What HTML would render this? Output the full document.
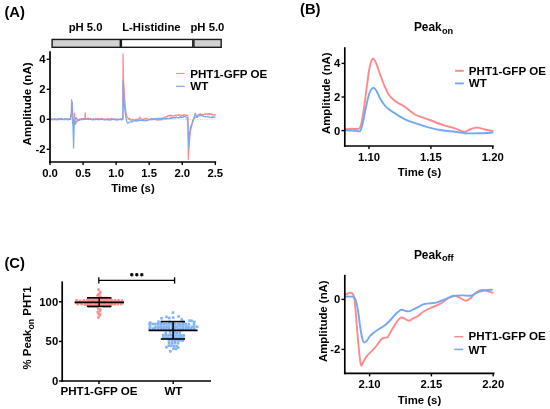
<!DOCTYPE html>
<html><head><meta charset="utf-8"><style>
html,body{margin:0;padding:0;background:#fff;width:550px;height:409px;overflow:hidden}
svg{display:block;will-change:transform;filter:blur(0.35px)}
text{font-family:"Liberation Sans", sans-serif;font-weight:bold;fill:#000}
</style></head><body>
<svg width="550" height="409" viewBox="0 0 550 409">
<rect width="550" height="409" fill="#fff"/>
<text x="4.40" y="17.40" font-size="14.8" text-anchor="start" >(A)</text>
<rect x="52.1" y="39.45" width="68.2" height="7.85" fill="#d2d2d2" stroke="#1a1a1a" stroke-width="1.4"/>
<rect x="121.4" y="39.45" width="71.4" height="7.85" fill="#fff" stroke="#1a1a1a" stroke-width="1.4"/>
<rect x="193.9" y="39.45" width="27.3" height="7.85" fill="#d2d2d2" stroke="#1a1a1a" stroke-width="1.4"/>
<text x="85.60" y="31.20" font-size="11.3" text-anchor="middle" >pH 5.0</text>
<text x="151.40" y="31.00" font-size="11.3" text-anchor="middle" >L-Histidine</text>
<text x="207.40" y="31.20" font-size="11.3" text-anchor="middle" >pH 5.0</text>
<line x1="50.60" y1="119.30" x2="215.40" y2="119.30" stroke="#d4d4d4" stroke-width="0.8" stroke-dasharray="1.6 0.8"/>
<polyline points="50.60,119.24 51.12,119.47 51.64,118.80 52.16,119.58 52.68,118.95 53.21,119.18 53.73,119.60 54.25,118.99 54.77,119.62 55.29,119.09 55.81,119.58 56.33,119.55 56.85,119.10 57.37,118.56 57.89,119.51 58.42,119.37 58.94,118.83 59.46,118.40 59.98,118.90 60.50,119.14 61.02,118.36 61.54,119.61 62.06,118.52 62.58,119.28 63.11,119.48 63.63,119.52 64.15,119.26 64.67,118.57 65.19,119.43 65.71,118.89 66.23,118.81 66.75,119.17 67.27,118.94 67.79,119.59 68.32,119.59 68.84,119.40 69.36,118.76 69.88,119.10 70.40,119.25 70.80,115.13 71.19,114.86 71.59,99.62 72.12,111.40 72.58,124.13 73.37,122.65 74.10,119.20 74.43,113.12 74.89,120.29 75.42,124.09 75.88,123.26 76.34,120.90 76.97,121.77 77.59,121.06 78.06,120.05 78.52,120.32 78.98,119.31 79.52,119.85 80.06,118.94 80.60,118.74 81.14,118.93 81.68,118.45 82.22,119.14 82.76,118.56 83.30,118.63 83.84,118.58 84.38,118.68 84.92,118.09 85.18,112.55 85.58,118.58 86.11,118.35 86.65,119.19 87.18,118.34 87.72,118.44 88.25,117.99 88.79,118.24 89.32,118.99 89.85,118.88 90.39,118.52 90.92,119.41 91.46,118.84 91.99,119.26 92.53,119.35 93.06,119.45 93.59,118.51 94.13,119.39 94.66,119.26 95.20,119.08 95.73,118.46 96.27,119.54 96.80,119.07 97.32,118.93 97.84,118.48 98.36,118.57 98.88,118.51 99.41,119.30 99.93,119.11 100.45,119.19 100.97,118.48 101.49,118.38 102.01,119.47 102.53,119.44 103.05,119.36 103.57,119.36 104.09,119.02 104.62,118.88 105.14,119.32 105.66,119.67 106.18,119.11 106.70,119.18 107.22,118.91 107.74,118.39 108.26,118.74 108.78,118.98 109.31,118.84 109.83,118.76 110.35,119.60 110.87,118.46 111.39,118.62 111.91,118.49 112.43,118.60 112.95,119.15 113.47,119.14 113.99,119.54 114.52,118.82 115.04,119.59 115.56,119.58 116.08,119.39 116.60,119.46 117.14,119.22 117.68,119.60 118.22,119.67 118.76,119.47 119.30,119.54 119.84,119.18 120.38,119.64 120.92,118.49 121.46,118.85 122.00,119.47 122.54,119.33 122.87,118.01 123.07,53.93 123.53,80.81 124.06,88.60 124.59,97.18 125.05,103.37 125.51,108.82 126.00,112.43 126.50,115.49 126.94,116.21 127.38,117.37 127.82,117.66 128.35,118.81 128.88,119.24 129.40,118.24 129.88,119.05 130.35,119.81 130.83,119.51 131.30,120.45 131.78,120.01 132.29,119.39 132.81,119.53 133.32,119.74 133.83,120.31 134.35,120.15 134.86,120.40 135.37,119.57 135.89,119.87 136.40,119.52 136.90,120.03 137.39,120.07 137.88,119.18 138.38,118.85 138.88,118.92 139.37,118.89 139.77,116.92 140.16,118.53 140.70,119.23 141.23,118.85 141.77,119.08 142.31,119.53 142.84,119.55 143.38,119.22 143.91,119.26 144.45,118.69 144.99,118.34 145.52,119.04 146.06,118.39 146.59,118.34 147.13,118.39 147.66,119.20 148.20,119.41 148.74,119.41 149.27,119.46 149.81,119.47 150.34,118.91 150.88,118.55 151.42,118.64 151.95,119.14 152.49,118.92 153.02,118.73 153.56,119.71 154.07,119.03 154.59,118.80 155.10,119.07 155.61,119.21 156.13,119.68 156.64,120.18 157.15,119.46 157.67,120.18 158.18,119.64 158.69,119.33 159.21,120.02 159.72,119.93 160.23,119.11 160.75,119.33 161.26,120.00 161.77,119.97 162.29,119.85 162.80,118.75 163.32,118.48 163.84,118.96 164.36,117.64 164.87,117.02 165.39,117.05 165.91,117.06 166.43,116.38 166.95,116.84 167.47,116.89 167.99,115.49 168.50,115.82 169.02,115.88 169.54,115.22 170.06,115.79 170.59,115.17 171.13,115.21 171.66,116.01 172.19,115.93 172.72,115.85 173.26,115.90 173.79,115.40 174.32,115.82 174.85,115.58 175.39,115.94 175.92,114.86 176.45,115.59 176.98,115.42 177.52,115.23 178.05,114.77 178.58,115.39 179.11,114.70 179.65,115.23 180.18,115.17 180.71,115.15 181.24,115.81 181.78,115.21 182.31,115.53 182.84,115.75 183.37,114.65 183.91,115.47 184.44,115.04 184.97,114.67 185.50,114.87 186.02,115.33 186.53,115.23 187.04,115.33 187.55,115.17 188.08,118.33 188.28,159.42 188.80,151.21 189.33,142.55 189.96,135.96 190.59,130.39 191.10,128.33 191.61,126.07 192.12,123.88 192.63,122.53 193.12,121.00 193.60,119.84 194.08,118.53 194.63,117.90 195.17,117.83 195.71,117.34 196.25,117.02 196.79,116.00 197.37,115.77 197.94,114.97 198.52,114.32 199.10,114.67 199.62,114.26 200.14,113.74 200.66,113.87 201.18,114.81 201.71,114.82 202.23,114.38 202.75,114.87 203.27,114.64 203.79,114.86 204.31,114.04 204.83,113.88 205.35,113.72 205.87,114.71 206.39,113.95 206.92,114.02 207.44,114.71 207.96,113.70 208.48,113.58 209.00,114.58 209.51,113.64 210.02,114.43 210.52,114.36 211.03,113.72 211.54,113.98 212.05,114.93 212.55,114.62 213.06,114.55 213.57,114.83 214.08,115.07 214.58,114.95 215.09,114.45 215.60,114.80" fill="none" stroke="#ff8a8c" stroke-width="1.25" stroke-linejoin="round" stroke-linecap="round"/>
<polyline points="50.60,119.80 51.12,119.24 51.64,119.36 52.16,119.81 52.68,119.48 53.21,119.17 53.73,119.29 54.25,119.76 54.77,118.79 55.29,119.00 55.81,118.80 56.33,119.71 56.85,119.55 57.37,119.78 57.89,119.01 58.42,119.54 58.94,119.69 59.46,119.38 59.98,118.87 60.50,118.97 61.02,119.55 61.54,119.67 62.06,118.86 62.58,119.23 63.11,119.09 63.63,119.73 64.15,119.76 64.67,119.10 65.19,119.38 65.71,119.75 66.23,118.84 66.75,119.16 67.27,118.98 67.79,119.74 68.32,118.93 68.84,119.76 69.36,118.92 69.88,119.35 70.40,119.47 71.06,116.24 71.59,111.35 72.18,101.99 72.78,115.19 73.24,134.27 73.57,147.92 74.10,127.21 74.69,119.66 75.15,119.12 75.61,118.31 76.08,117.55 76.54,118.53 77.00,119.03 77.66,119.97 78.32,120.20 78.81,120.31 79.31,119.91 79.81,120.03 80.30,119.56 80.82,119.81 81.34,119.06 81.86,119.25 82.38,119.63 82.91,119.33 83.43,118.84 83.95,119.71 84.47,118.97 84.99,119.37 85.51,119.31 86.03,118.95 86.55,119.41 87.07,119.29 87.59,119.10 88.12,118.79 88.64,119.47 89.16,118.95 89.68,119.08 90.20,119.16 90.73,119.41 91.26,119.47 91.78,119.79 92.31,119.71 92.84,119.78 93.37,119.08 93.90,119.60 94.42,119.70 94.95,119.79 95.48,119.00 96.01,118.98 96.54,119.19 97.06,119.61 97.59,119.65 98.12,119.61 98.65,119.44 99.18,119.76 99.70,119.46 100.23,119.66 100.76,118.94 101.29,118.93 101.82,119.38 102.34,119.71 102.87,118.96 103.40,119.65 103.93,119.61 104.46,119.99 104.98,119.59 105.51,119.50 106.04,119.48 106.57,119.80 107.10,119.49 107.62,120.02 108.15,119.75 108.68,119.94 109.21,119.62 109.74,120.00 110.26,120.03 110.79,119.74 111.32,119.82 111.85,119.46 112.38,119.52 112.90,119.29 113.43,119.40 113.96,119.34 114.49,119.18 115.02,119.70 115.54,119.77 116.07,119.09 116.60,119.97 117.14,119.36 117.68,119.45 118.22,120.08 118.76,119.25 119.30,119.19 119.84,119.47 120.38,119.35 120.92,119.27 121.46,119.98 122.00,119.58 122.54,119.60 122.94,117.45 123.13,80.28 123.86,100.96 124.52,106.84 125.18,112.14 125.62,114.86 126.06,117.35 126.50,120.33 127.00,121.89 127.49,123.14 128.07,122.78 128.65,122.94 129.22,122.06 129.80,122.24 130.33,122.00 130.86,121.84 131.38,121.62 131.91,121.65 132.44,122.00 132.97,121.00 133.50,120.88 134.02,120.98 134.55,120.78 135.08,120.48 135.60,121.09 136.12,120.37 136.64,120.87 137.15,121.04 137.67,120.82 138.19,120.32 138.71,120.86 139.23,120.28 139.75,120.02 140.27,120.51 140.78,120.62 141.30,120.50 141.82,120.27 142.34,120.17 142.86,120.31 143.38,120.27 143.90,120.85 144.41,120.76 144.93,120.64 145.45,120.11 145.97,120.56 146.51,120.19 147.05,120.69 147.60,120.55 148.14,120.25 148.68,119.74 149.22,119.63 149.76,119.57 150.31,119.88 150.85,119.56 151.39,119.53 151.93,119.44 152.48,119.72 153.02,118.82 153.56,119.47 154.07,118.58 154.59,118.56 155.10,119.46 155.61,118.93 156.13,118.48 156.64,118.26 157.15,118.74 157.67,118.86 158.18,118.85 158.70,118.08 159.21,118.85 159.73,118.46 160.24,118.93 160.76,118.52 161.27,118.07 161.79,118.94 162.31,118.21 162.82,118.54 163.34,118.14 163.85,118.34 164.37,118.83 164.88,118.13 165.40,118.56 165.91,119.05 166.43,119.07 166.96,118.51 167.49,118.50 168.02,118.61 168.55,118.73 169.08,118.46 169.61,118.44 170.14,117.84 170.67,118.67 171.20,117.84 171.73,117.69 172.26,118.40 172.79,117.50 173.32,117.68 173.85,117.43 174.38,118.02 174.91,117.88 175.44,117.81 175.97,117.13 176.50,117.51 177.03,117.70 177.56,117.58 178.09,117.69 178.62,117.87 179.15,117.77 179.68,116.95 180.21,117.48 180.74,116.74 181.27,117.41 181.80,117.35 182.32,117.04 182.85,117.33 183.38,117.08 183.91,116.42 184.44,116.45 184.97,116.47 185.50,116.61 186.10,117.02 186.69,117.69 187.29,118.80 187.88,123.57 188.61,146.77 189.33,134.21 189.96,130.83 190.59,126.83 191.10,125.49 191.61,124.40 192.12,123.19 192.63,120.80 193.12,120.29 193.60,118.58 194.08,117.36 194.65,115.54 195.21,113.20 195.73,114.30 196.26,116.40 196.79,117.34 197.28,117.26 197.77,116.54 198.26,116.26 198.74,116.05 199.23,115.61 199.77,115.66 200.31,115.04 200.85,115.57 201.39,115.97 201.93,115.35 202.47,115.36 203.01,116.04 203.55,116.48 204.09,116.53 204.63,116.74 205.17,116.58 205.71,116.95 206.25,116.90 206.79,116.99 207.33,116.77 207.87,116.54 208.41,116.79 208.91,117.15 209.42,117.16 209.93,117.06 210.44,117.23 210.94,117.28 211.45,117.58 211.96,117.36 212.47,116.65 212.98,117.55 213.48,117.16 213.99,117.04 214.50,116.81 215.01,117.20" fill="none" stroke="#72a8f4" stroke-width="1.25" stroke-linejoin="round" stroke-linecap="round"/>
<line x1="50.00" y1="51.20" x2="50.00" y2="163.10" stroke="#000" stroke-width="1.7" />
<line x1="49.15" y1="162.00" x2="216.15" y2="162.00" stroke="#000" stroke-width="1.7" />
<line x1="46.70" y1="59.30" x2="50.00" y2="59.30" stroke="#000" stroke-width="1.4" />
<text x="45.60" y="63.20" font-size="11.3" text-anchor="end" >4</text>
<line x1="46.70" y1="89.30" x2="50.00" y2="89.30" stroke="#000" stroke-width="1.4" />
<text x="45.60" y="93.20" font-size="11.3" text-anchor="end" >2</text>
<line x1="46.70" y1="119.30" x2="50.00" y2="119.30" stroke="#000" stroke-width="1.4" />
<text x="45.60" y="123.20" font-size="11.3" text-anchor="end" >0</text>
<line x1="46.70" y1="149.30" x2="50.00" y2="149.30" stroke="#000" stroke-width="1.4" />
<text x="45.60" y="153.20" font-size="11.3" text-anchor="end" >-2</text>
<line x1="50.00" y1="162.00" x2="50.00" y2="165.00" stroke="#000" stroke-width="1.4" />
<text x="50.00" y="176.60" font-size="11.3" text-anchor="middle" >0.0</text>
<line x1="83.06" y1="162.00" x2="83.06" y2="165.00" stroke="#000" stroke-width="1.4" />
<text x="83.06" y="176.60" font-size="11.3" text-anchor="middle" >0.5</text>
<line x1="116.12" y1="162.00" x2="116.12" y2="165.00" stroke="#000" stroke-width="1.4" />
<text x="116.12" y="176.60" font-size="11.3" text-anchor="middle" >1.0</text>
<line x1="149.18" y1="162.00" x2="149.18" y2="165.00" stroke="#000" stroke-width="1.4" />
<text x="149.18" y="176.60" font-size="11.3" text-anchor="middle" >1.5</text>
<line x1="182.24" y1="162.00" x2="182.24" y2="165.00" stroke="#000" stroke-width="1.4" />
<text x="182.24" y="176.60" font-size="11.3" text-anchor="middle" >2.0</text>
<line x1="215.30" y1="162.00" x2="215.30" y2="165.00" stroke="#000" stroke-width="1.4" />
<text x="215.30" y="176.60" font-size="11.3" text-anchor="middle" >2.5</text>
<text x="133.00" y="191.60" font-size="11.4" text-anchor="middle" >Time (s)</text>
<text x="0.00" y="0.00" font-size="11.6" text-anchor="middle" transform="translate(31.4,103.9) rotate(-90)">Amplitude (nA)</text>
<line x1="175.90" y1="73.50" x2="184.70" y2="73.50" stroke="#ff8a8c" stroke-width="1.15" />
<line x1="175.90" y1="86.30" x2="184.70" y2="86.30" stroke="#72a8f4" stroke-width="1.15" />
<text x="190.20" y="77.60" font-size="11.6" text-anchor="start" >PHT1-GFP OE</text>
<text x="190.20" y="89.70" font-size="11.6" text-anchor="start" >WT</text>
<text x="300.00" y="14.30" font-size="14.8" text-anchor="start" >(B)</text>
<text x="413.90" y="31.00" font-size="11.9" text-anchor="start" >Peak</text>
<text x="441.90" y="33.60" font-size="9.2" text-anchor="start" >on</text>
<path d="M345.00,129.20 C346.17,129.13 349.75,128.87 352.00,128.80 C354.25,128.73 357.00,129.43 358.50,128.80 C360.00,128.17 360.08,128.47 361.00,125.00 C361.92,121.53 363.08,114.00 364.00,108.00 C364.92,102.00 365.58,95.67 366.50,89.00 C367.42,82.33 368.48,73.03 369.50,68.00 C370.52,62.97 371.52,59.63 372.60,58.80 C373.68,57.97 374.72,60.30 376.00,63.00 C377.28,65.70 378.88,71.17 380.30,75.00 C381.72,78.83 383.10,82.75 384.50,86.00 C385.90,89.25 386.95,92.00 388.70,94.50 C390.45,97.00 392.28,98.92 395.00,101.00 C397.72,103.08 401.67,104.75 405.00,107.00 C408.33,109.25 411.08,112.42 415.00,114.50 C418.92,116.58 424.05,117.82 428.50,119.50 C432.95,121.18 437.28,123.13 441.70,124.60 C446.12,126.07 451.78,127.23 455.00,128.30 C458.22,129.37 459.33,130.42 461.00,131.00 C462.67,131.58 463.33,132.13 465.00,131.80 C466.67,131.47 469.00,129.70 471.00,129.00 C473.00,128.30 474.67,127.52 477.00,127.60 C479.33,127.68 482.42,128.93 485.00,129.50 C487.58,130.07 491.25,130.75 492.50,131.00" fill="none" stroke="#ff8a8c" stroke-width="1.9" stroke-linejoin="round" stroke-linecap="round"/>
<path d="M345.00,130.20 C346.17,130.27 349.83,130.43 352.00,130.60 C354.17,130.77 356.58,131.22 358.00,131.20 C359.42,131.18 359.67,132.03 360.50,130.50 C361.33,128.97 362.08,125.92 363.00,122.00 C363.92,118.08 364.92,111.83 366.00,107.00 C367.08,102.17 368.30,96.20 369.50,93.00 C370.70,89.80 372.03,88.13 373.20,87.80 C374.37,87.47 375.32,89.17 376.50,91.00 C377.68,92.83 378.97,96.47 380.30,98.80 C381.63,101.13 383.10,103.25 384.50,105.00 C385.90,106.75 386.95,107.90 388.70,109.30 C390.45,110.70 392.28,111.72 395.00,113.40 C397.72,115.08 401.67,117.77 405.00,119.40 C408.33,121.03 411.08,121.87 415.00,123.20 C418.92,124.53 424.05,126.22 428.50,127.40 C432.95,128.58 437.28,129.57 441.70,130.30 C446.12,131.03 451.12,131.32 455.00,131.80 C458.88,132.28 461.17,132.95 465.00,133.20 C468.83,133.45 473.42,133.40 478.00,133.30 C482.58,133.20 490.08,132.72 492.50,132.60" fill="none" stroke="#72a8f4" stroke-width="1.9" stroke-linejoin="round" stroke-linecap="round"/>
<line x1="344.80" y1="47.20" x2="344.80" y2="146.80" stroke="#000" stroke-width="1.7" />
<line x1="343.95" y1="146.00" x2="493.75" y2="146.00" stroke="#000" stroke-width="1.7" />
<line x1="341.50" y1="63.40" x2="344.80" y2="63.40" stroke="#000" stroke-width="1.4" />
<text x="340.20" y="67.30" font-size="11.3" text-anchor="end" >4</text>
<line x1="341.50" y1="97.00" x2="344.80" y2="97.00" stroke="#000" stroke-width="1.4" />
<text x="340.20" y="100.90" font-size="11.3" text-anchor="end" >2</text>
<line x1="341.50" y1="130.60" x2="344.80" y2="130.60" stroke="#000" stroke-width="1.4" />
<text x="340.20" y="134.50" font-size="11.3" text-anchor="end" >0</text>
<line x1="369.00" y1="146.00" x2="369.00" y2="149.00" stroke="#000" stroke-width="1.4" />
<text x="369.00" y="160.80" font-size="11.3" text-anchor="middle" >1.10</text>
<line x1="430.90" y1="146.00" x2="430.90" y2="149.00" stroke="#000" stroke-width="1.4" />
<text x="430.90" y="160.80" font-size="11.3" text-anchor="middle" >1.15</text>
<line x1="492.80" y1="146.00" x2="492.80" y2="149.00" stroke="#000" stroke-width="1.4" />
<text x="492.80" y="160.80" font-size="11.3" text-anchor="middle" >1.20</text>
<text x="419.50" y="176.30" font-size="11.4" text-anchor="middle" >Time (s)</text>
<text x="0.00" y="0.00" font-size="11.4" text-anchor="middle" transform="translate(329.8,93.2) rotate(-90)">Amplitude (nA)</text>
<line x1="455.00" y1="70.80" x2="463.80" y2="70.80" stroke="#ff8a8c" stroke-width="1.9" />
<line x1="455.00" y1="83.40" x2="463.80" y2="83.40" stroke="#72a8f4" stroke-width="1.9" />
<text x="468.80" y="74.60" font-size="11.6" text-anchor="start" >PHT1-GFP OE</text>
<text x="468.80" y="87.40" font-size="11.6" text-anchor="start" >WT</text>
<text x="4.40" y="267.60" font-size="14.8" text-anchor="start" >(C)</text>
<circle cx="76.22" cy="302.47" r="1.5" fill="#ff9090"/>
<circle cx="78.52" cy="302.33" r="1.5" fill="#ff9090"/>
<circle cx="80.84" cy="302.35" r="1.5" fill="#ff9090"/>
<circle cx="83.00" cy="302.22" r="1.5" fill="#ff9090"/>
<circle cx="85.60" cy="302.38" r="1.5" fill="#ff9090"/>
<circle cx="87.99" cy="302.49" r="1.5" fill="#ff9090"/>
<circle cx="90.17" cy="302.16" r="1.5" fill="#ff9090"/>
<circle cx="92.45" cy="302.12" r="1.5" fill="#ff9090"/>
<circle cx="94.66" cy="302.11" r="1.5" fill="#ff9090"/>
<circle cx="97.06" cy="302.44" r="1.5" fill="#ff9090"/>
<circle cx="99.46" cy="302.30" r="1.5" fill="#ff9090"/>
<circle cx="101.70" cy="302.21" r="1.5" fill="#ff9090"/>
<circle cx="104.24" cy="302.44" r="1.5" fill="#ff9090"/>
<circle cx="106.29" cy="302.19" r="1.5" fill="#ff9090"/>
<circle cx="108.51" cy="302.41" r="1.5" fill="#ff9090"/>
<circle cx="111.14" cy="302.25" r="1.5" fill="#ff9090"/>
<circle cx="113.46" cy="302.10" r="1.5" fill="#ff9090"/>
<circle cx="115.80" cy="302.29" r="1.5" fill="#ff9090"/>
<circle cx="117.92" cy="302.13" r="1.5" fill="#ff9090"/>
<circle cx="120.39" cy="302.21" r="1.5" fill="#ff9090"/>
<circle cx="122.53" cy="302.49" r="1.5" fill="#ff9090"/>
<circle cx="76.69" cy="300.20" r="1.5" fill="#ff9090"/>
<circle cx="80.11" cy="300.64" r="1.5" fill="#ff9090"/>
<circle cx="83.97" cy="300.36" r="1.5" fill="#ff9090"/>
<circle cx="87.57" cy="300.10" r="1.5" fill="#ff9090"/>
<circle cx="90.54" cy="300.34" r="1.5" fill="#ff9090"/>
<circle cx="94.12" cy="300.78" r="1.5" fill="#ff9090"/>
<circle cx="97.61" cy="300.71" r="1.5" fill="#ff9090"/>
<circle cx="101.15" cy="300.68" r="1.5" fill="#ff9090"/>
<circle cx="104.37" cy="300.79" r="1.5" fill="#ff9090"/>
<circle cx="107.96" cy="300.62" r="1.5" fill="#ff9090"/>
<circle cx="111.45" cy="300.06" r="1.5" fill="#ff9090"/>
<circle cx="115.14" cy="300.19" r="1.5" fill="#ff9090"/>
<circle cx="118.44" cy="300.36" r="1.5" fill="#ff9090"/>
<circle cx="121.99" cy="300.46" r="1.5" fill="#ff9090"/>
<circle cx="77.75" cy="303.92" r="1.5" fill="#ff9090"/>
<circle cx="81.60" cy="304.00" r="1.5" fill="#ff9090"/>
<circle cx="84.88" cy="304.55" r="1.5" fill="#ff9090"/>
<circle cx="88.40" cy="304.51" r="1.5" fill="#ff9090"/>
<circle cx="91.32" cy="303.88" r="1.5" fill="#ff9090"/>
<circle cx="95.10" cy="303.99" r="1.5" fill="#ff9090"/>
<circle cx="97.88" cy="304.46" r="1.5" fill="#ff9090"/>
<circle cx="101.26" cy="303.94" r="1.5" fill="#ff9090"/>
<circle cx="104.42" cy="303.98" r="1.5" fill="#ff9090"/>
<circle cx="108.40" cy="304.29" r="1.5" fill="#ff9090"/>
<circle cx="111.80" cy="303.96" r="1.5" fill="#ff9090"/>
<circle cx="114.62" cy="304.16" r="1.5" fill="#ff9090"/>
<circle cx="117.89" cy="304.10" r="1.5" fill="#ff9090"/>
<circle cx="121.21" cy="304.09" r="1.5" fill="#ff9090"/>
<circle cx="87.69" cy="299.56" r="1.5" fill="#ff9090"/>
<circle cx="89.88" cy="299.36" r="1.5" fill="#ff9090"/>
<circle cx="92.01" cy="299.66" r="1.5" fill="#ff9090"/>
<circle cx="94.74" cy="299.31" r="1.5" fill="#ff9090"/>
<circle cx="96.89" cy="299.59" r="1.5" fill="#ff9090"/>
<circle cx="99.45" cy="299.33" r="1.5" fill="#ff9090"/>
<circle cx="101.69" cy="299.66" r="1.5" fill="#ff9090"/>
<circle cx="104.03" cy="299.62" r="1.5" fill="#ff9090"/>
<circle cx="106.24" cy="299.57" r="1.5" fill="#ff9090"/>
<circle cx="108.80" cy="299.47" r="1.5" fill="#ff9090"/>
<circle cx="111.15" cy="299.53" r="1.5" fill="#ff9090"/>
<circle cx="87.45" cy="305.13" r="1.5" fill="#ff9090"/>
<circle cx="89.68" cy="305.16" r="1.5" fill="#ff9090"/>
<circle cx="92.35" cy="305.19" r="1.5" fill="#ff9090"/>
<circle cx="94.64" cy="305.13" r="1.5" fill="#ff9090"/>
<circle cx="97.04" cy="304.93" r="1.5" fill="#ff9090"/>
<circle cx="99.06" cy="305.14" r="1.5" fill="#ff9090"/>
<circle cx="101.49" cy="305.18" r="1.5" fill="#ff9090"/>
<circle cx="104.00" cy="305.27" r="1.5" fill="#ff9090"/>
<circle cx="106.10" cy="305.02" r="1.5" fill="#ff9090"/>
<circle cx="108.53" cy="304.97" r="1.5" fill="#ff9090"/>
<circle cx="111.06" cy="305.08" r="1.5" fill="#ff9090"/>
<circle cx="88.93" cy="298.27" r="1.5" fill="#ff9090"/>
<circle cx="94.25" cy="298.37" r="1.5" fill="#ff9090"/>
<circle cx="96.64" cy="298.23" r="1.5" fill="#ff9090"/>
<circle cx="99.10" cy="298.20" r="1.5" fill="#ff9090"/>
<circle cx="101.95" cy="298.28" r="1.5" fill="#ff9090"/>
<circle cx="104.29" cy="298.07" r="1.5" fill="#ff9090"/>
<circle cx="106.85" cy="298.09" r="1.5" fill="#ff9090"/>
<circle cx="109.55" cy="298.20" r="1.5" fill="#ff9090"/>
<circle cx="89.14" cy="306.59" r="1.5" fill="#ff9090"/>
<circle cx="91.39" cy="306.21" r="1.5" fill="#ff9090"/>
<circle cx="93.94" cy="306.48" r="1.5" fill="#ff9090"/>
<circle cx="96.61" cy="306.52" r="1.5" fill="#ff9090"/>
<circle cx="104.18" cy="306.53" r="1.5" fill="#ff9090"/>
<circle cx="106.79" cy="306.22" r="1.5" fill="#ff9090"/>
<circle cx="109.48" cy="306.45" r="1.5" fill="#ff9090"/>
<circle cx="98.49" cy="289.60" r="1.5" fill="#ff9090"/>
<circle cx="100.08" cy="291.90" r="1.5" fill="#ff9090"/>
<circle cx="98.68" cy="294.20" r="1.5" fill="#ff9090"/>
<circle cx="100.01" cy="296.40" r="1.5" fill="#ff9090"/>
<circle cx="98.22" cy="308.40" r="1.5" fill="#ff9090"/>
<circle cx="99.89" cy="310.70" r="1.5" fill="#ff9090"/>
<circle cx="98.21" cy="313.00" r="1.5" fill="#ff9090"/>
<circle cx="99.61" cy="315.30" r="1.5" fill="#ff9090"/>
<circle cx="98.38" cy="317.40" r="1.5" fill="#ff9090"/>
<circle cx="100.20" cy="293.00" r="1.5" fill="#ff9090"/>
<circle cx="97.80" cy="295.30" r="1.5" fill="#ff9090"/>
<circle cx="100.30" cy="309.60" r="1.5" fill="#ff9090"/>
<circle cx="97.90" cy="312.00" r="1.5" fill="#ff9090"/>
<circle cx="100.10" cy="314.20" r="1.5" fill="#ff9090"/>
<rect x="148.34" y="322.59" width="2.6" height="2.6" fill="#7fb2f6"/>
<rect x="151.38" y="322.71" width="2.6" height="2.6" fill="#7fb2f6"/>
<rect x="154.18" y="322.65" width="2.6" height="2.6" fill="#7fb2f6"/>
<rect x="157.03" y="322.49" width="2.6" height="2.6" fill="#7fb2f6"/>
<rect x="159.72" y="322.51" width="2.6" height="2.6" fill="#7fb2f6"/>
<rect x="162.45" y="322.90" width="2.6" height="2.6" fill="#7fb2f6"/>
<rect x="165.19" y="322.89" width="2.6" height="2.6" fill="#7fb2f6"/>
<rect x="168.16" y="322.68" width="2.6" height="2.6" fill="#7fb2f6"/>
<rect x="170.56" y="322.81" width="2.6" height="2.6" fill="#7fb2f6"/>
<rect x="173.56" y="322.81" width="2.6" height="2.6" fill="#7fb2f6"/>
<rect x="176.46" y="322.94" width="2.6" height="2.6" fill="#7fb2f6"/>
<rect x="179.06" y="322.85" width="2.6" height="2.6" fill="#7fb2f6"/>
<rect x="182.02" y="322.88" width="2.6" height="2.6" fill="#7fb2f6"/>
<rect x="184.39" y="322.67" width="2.6" height="2.6" fill="#7fb2f6"/>
<rect x="187.50" y="322.69" width="2.6" height="2.6" fill="#7fb2f6"/>
<rect x="192.71" y="322.85" width="2.6" height="2.6" fill="#7fb2f6"/>
<rect x="148.64" y="325.12" width="2.6" height="2.6" fill="#7fb2f6"/>
<rect x="154.16" y="325.47" width="2.6" height="2.6" fill="#7fb2f6"/>
<rect x="157.05" y="325.30" width="2.6" height="2.6" fill="#7fb2f6"/>
<rect x="159.40" y="325.16" width="2.6" height="2.6" fill="#7fb2f6"/>
<rect x="162.28" y="325.41" width="2.6" height="2.6" fill="#7fb2f6"/>
<rect x="165.17" y="325.47" width="2.6" height="2.6" fill="#7fb2f6"/>
<rect x="167.84" y="325.24" width="2.6" height="2.6" fill="#7fb2f6"/>
<rect x="170.91" y="325.15" width="2.6" height="2.6" fill="#7fb2f6"/>
<rect x="173.72" y="325.31" width="2.6" height="2.6" fill="#7fb2f6"/>
<rect x="176.12" y="325.32" width="2.6" height="2.6" fill="#7fb2f6"/>
<rect x="179.09" y="325.06" width="2.6" height="2.6" fill="#7fb2f6"/>
<rect x="181.83" y="325.25" width="2.6" height="2.6" fill="#7fb2f6"/>
<rect x="184.63" y="325.30" width="2.6" height="2.6" fill="#7fb2f6"/>
<rect x="187.15" y="325.32" width="2.6" height="2.6" fill="#7fb2f6"/>
<rect x="190.38" y="325.51" width="2.6" height="2.6" fill="#7fb2f6"/>
<rect x="192.91" y="325.11" width="2.6" height="2.6" fill="#7fb2f6"/>
<rect x="195.86" y="325.50" width="2.6" height="2.6" fill="#7fb2f6"/>
<rect x="148.41" y="327.35" width="2.6" height="2.6" fill="#7fb2f6"/>
<rect x="151.49" y="327.31" width="2.6" height="2.6" fill="#7fb2f6"/>
<rect x="153.81" y="327.35" width="2.6" height="2.6" fill="#7fb2f6"/>
<rect x="156.92" y="327.41" width="2.6" height="2.6" fill="#7fb2f6"/>
<rect x="159.67" y="327.30" width="2.6" height="2.6" fill="#7fb2f6"/>
<rect x="162.19" y="327.51" width="2.6" height="2.6" fill="#7fb2f6"/>
<rect x="165.01" y="327.52" width="2.6" height="2.6" fill="#7fb2f6"/>
<rect x="167.87" y="327.46" width="2.6" height="2.6" fill="#7fb2f6"/>
<rect x="170.54" y="327.35" width="2.6" height="2.6" fill="#7fb2f6"/>
<rect x="173.56" y="327.51" width="2.6" height="2.6" fill="#7fb2f6"/>
<rect x="176.32" y="327.68" width="2.6" height="2.6" fill="#7fb2f6"/>
<rect x="179.16" y="327.66" width="2.6" height="2.6" fill="#7fb2f6"/>
<rect x="181.73" y="327.41" width="2.6" height="2.6" fill="#7fb2f6"/>
<rect x="184.45" y="327.75" width="2.6" height="2.6" fill="#7fb2f6"/>
<rect x="187.19" y="327.37" width="2.6" height="2.6" fill="#7fb2f6"/>
<rect x="190.03" y="327.30" width="2.6" height="2.6" fill="#7fb2f6"/>
<rect x="192.88" y="327.64" width="2.6" height="2.6" fill="#7fb2f6"/>
<rect x="157.17" y="320.35" width="2.6" height="2.6" fill="#7fb2f6"/>
<rect x="160.33" y="320.73" width="2.6" height="2.6" fill="#7fb2f6"/>
<rect x="168.27" y="320.59" width="2.6" height="2.6" fill="#7fb2f6"/>
<rect x="181.85" y="320.53" width="2.6" height="2.6" fill="#7fb2f6"/>
<rect x="192.95" y="320.71" width="2.6" height="2.6" fill="#7fb2f6"/>
<rect x="160.30" y="317.00" width="2.6" height="2.6" fill="#7fb2f6"/>
<rect x="165.20" y="315.60" width="2.6" height="2.6" fill="#7fb2f6"/>
<rect x="167.90" y="316.70" width="2.6" height="2.6" fill="#7fb2f6"/>
<rect x="171.90" y="316.20" width="2.6" height="2.6" fill="#7fb2f6"/>
<rect x="171.60" y="311.30" width="2.6" height="2.6" fill="#7fb2f6"/>
<rect x="177.20" y="315.20" width="2.6" height="2.6" fill="#7fb2f6"/>
<rect x="180.40" y="318.20" width="2.6" height="2.6" fill="#7fb2f6"/>
<rect x="188.20" y="319.30" width="2.6" height="2.6" fill="#7fb2f6"/>
<rect x="190.30" y="319.60" width="2.6" height="2.6" fill="#7fb2f6"/>
<rect x="148.90" y="321.30" width="2.6" height="2.6" fill="#7fb2f6"/>
<rect x="164.48" y="331.53" width="2.6" height="2.6" fill="#7fb2f6"/>
<rect x="168.83" y="331.21" width="2.6" height="2.6" fill="#7fb2f6"/>
<rect x="173.31" y="331.27" width="2.6" height="2.6" fill="#7fb2f6"/>
<rect x="175.76" y="331.40" width="2.6" height="2.6" fill="#7fb2f6"/>
<rect x="178.54" y="331.28" width="2.6" height="2.6" fill="#7fb2f6"/>
<rect x="161.85" y="333.85" width="2.6" height="2.6" fill="#7fb2f6"/>
<rect x="164.44" y="333.76" width="2.6" height="2.6" fill="#7fb2f6"/>
<rect x="167.13" y="334.10" width="2.6" height="2.6" fill="#7fb2f6"/>
<rect x="169.58" y="333.95" width="2.6" height="2.6" fill="#7fb2f6"/>
<rect x="172.05" y="334.24" width="2.6" height="2.6" fill="#7fb2f6"/>
<rect x="174.47" y="334.21" width="2.6" height="2.6" fill="#7fb2f6"/>
<rect x="177.26" y="334.16" width="2.6" height="2.6" fill="#7fb2f6"/>
<rect x="179.86" y="334.19" width="2.6" height="2.6" fill="#7fb2f6"/>
<rect x="182.33" y="334.13" width="2.6" height="2.6" fill="#7fb2f6"/>
<rect x="162.01" y="336.39" width="2.6" height="2.6" fill="#7fb2f6"/>
<rect x="164.42" y="336.36" width="2.6" height="2.6" fill="#7fb2f6"/>
<rect x="167.04" y="336.66" width="2.6" height="2.6" fill="#7fb2f6"/>
<rect x="169.73" y="336.68" width="2.6" height="2.6" fill="#7fb2f6"/>
<rect x="172.13" y="336.63" width="2.6" height="2.6" fill="#7fb2f6"/>
<rect x="174.53" y="336.85" width="2.6" height="2.6" fill="#7fb2f6"/>
<rect x="177.23" y="336.73" width="2.6" height="2.6" fill="#7fb2f6"/>
<rect x="179.42" y="336.66" width="2.6" height="2.6" fill="#7fb2f6"/>
<rect x="182.08" y="336.55" width="2.6" height="2.6" fill="#7fb2f6"/>
<rect x="167.57" y="339.18" width="2.6" height="2.6" fill="#7fb2f6"/>
<rect x="170.58" y="339.30" width="2.6" height="2.6" fill="#7fb2f6"/>
<rect x="173.38" y="339.55" width="2.6" height="2.6" fill="#7fb2f6"/>
<rect x="176.28" y="339.09" width="2.6" height="2.6" fill="#7fb2f6"/>
<rect x="179.04" y="339.07" width="2.6" height="2.6" fill="#7fb2f6"/>
<rect x="181.53" y="339.29" width="2.6" height="2.6" fill="#7fb2f6"/>
<rect x="167.76" y="341.78" width="2.6" height="2.6" fill="#7fb2f6"/>
<rect x="170.66" y="342.01" width="2.6" height="2.6" fill="#7fb2f6"/>
<rect x="173.63" y="341.89" width="2.6" height="2.6" fill="#7fb2f6"/>
<rect x="176.73" y="341.89" width="2.6" height="2.6" fill="#7fb2f6"/>
<rect x="167.60" y="344.46" width="2.6" height="2.6" fill="#7fb2f6"/>
<rect x="170.14" y="344.53" width="2.6" height="2.6" fill="#7fb2f6"/>
<rect x="172.98" y="344.90" width="2.6" height="2.6" fill="#7fb2f6"/>
<rect x="175.48" y="344.94" width="2.6" height="2.6" fill="#7fb2f6"/>
<rect x="165.20" y="345.90" width="2.6" height="2.6" fill="#7fb2f6"/>
<rect x="176.90" y="346.20" width="2.6" height="2.6" fill="#7fb2f6"/>
<rect x="172.20" y="347.30" width="2.6" height="2.6" fill="#7fb2f6"/>
<rect x="174.70" y="347.70" width="2.6" height="2.6" fill="#7fb2f6"/>
<rect x="169.10" y="350.00" width="2.6" height="2.6" fill="#7fb2f6"/>
<line x1="74.60" y1="302.40" x2="124.00" y2="302.40" stroke="#000" stroke-width="1.7" />
<line x1="87.00" y1="297.80" x2="111.40" y2="297.80" stroke="#000" stroke-width="1.6" />
<line x1="87.00" y1="306.40" x2="111.40" y2="306.40" stroke="#000" stroke-width="1.6" />
<line x1="99.20" y1="297.80" x2="99.20" y2="306.40" stroke="#000" stroke-width="1.6" />
<line x1="148.60" y1="330.40" x2="197.60" y2="330.40" stroke="#000" stroke-width="1.7" />
<line x1="160.80" y1="321.60" x2="185.00" y2="321.60" stroke="#000" stroke-width="1.6" />
<line x1="160.80" y1="339.00" x2="185.00" y2="339.00" stroke="#000" stroke-width="1.6" />
<line x1="173.10" y1="321.60" x2="173.10" y2="339.00" stroke="#000" stroke-width="1.6" />
<line x1="98.80" y1="280.40" x2="174.60" y2="280.40" stroke="#000" stroke-width="1.3" />
<line x1="98.80" y1="277.30" x2="98.80" y2="283.60" stroke="#000" stroke-width="1.3" />
<line x1="174.60" y1="277.30" x2="174.60" y2="283.60" stroke="#000" stroke-width="1.3" />
<line x1="131.80" y1="272.95" x2="131.80" y2="276.45" stroke="#000" stroke-width="1.25" />
<line x1="130.28" y1="273.82" x2="133.32" y2="275.57" stroke="#000" stroke-width="1.25" />
<line x1="133.32" y1="273.82" x2="130.28" y2="275.57" stroke="#000" stroke-width="1.25" />
<circle cx="131.8" cy="274.7" r="1.1" fill="#000"/>
<line x1="136.80" y1="272.95" x2="136.80" y2="276.45" stroke="#000" stroke-width="1.25" />
<line x1="135.28" y1="273.82" x2="138.32" y2="275.57" stroke="#000" stroke-width="1.25" />
<line x1="138.32" y1="273.82" x2="135.28" y2="275.57" stroke="#000" stroke-width="1.25" />
<circle cx="136.8" cy="274.7" r="1.1" fill="#000"/>
<line x1="141.80" y1="272.95" x2="141.80" y2="276.45" stroke="#000" stroke-width="1.25" />
<line x1="140.28" y1="273.82" x2="143.32" y2="275.57" stroke="#000" stroke-width="1.25" />
<line x1="143.32" y1="273.82" x2="140.28" y2="275.57" stroke="#000" stroke-width="1.25" />
<circle cx="141.8" cy="274.7" r="1.1" fill="#000"/>
<line x1="62.20" y1="281.40" x2="62.20" y2="381.80" stroke="#000" stroke-width="1.7" />
<line x1="61.35" y1="381.00" x2="211.00" y2="381.00" stroke="#000" stroke-width="1.7" />
<line x1="58.90" y1="301.80" x2="62.20" y2="301.80" stroke="#000" stroke-width="1.4" />
<text x="58.20" y="305.70" font-size="11.3" text-anchor="end" >100</text>
<line x1="58.90" y1="341.40" x2="62.20" y2="341.40" stroke="#000" stroke-width="1.4" />
<text x="58.20" y="345.30" font-size="11.3" text-anchor="end" >50</text>
<line x1="58.90" y1="381.00" x2="62.20" y2="381.00" stroke="#000" stroke-width="1.4" />
<text x="58.20" y="384.90" font-size="11.3" text-anchor="end" >0</text>
<line x1="99.00" y1="381.00" x2="99.00" y2="384.00" stroke="#000" stroke-width="1.4" />
<line x1="173.20" y1="381.00" x2="173.20" y2="384.00" stroke="#000" stroke-width="1.4" />
<text x="99.00" y="395.20" font-size="11.6" text-anchor="middle" >PHT1-GFP OE</text>
<text x="173.40" y="395.20" font-size="11.6" text-anchor="middle" >WT</text>
<text transform="translate(31.3,328) rotate(-90)" font-size="11.4" text-anchor="middle">% Peak<tspan font-size="8.8" dy="2.6">on</tspan><tspan dy="-2.6"> PHT1</tspan></text>
<text x="413.90" y="258.90" font-size="11.9" text-anchor="start" >Peak</text>
<text x="441.90" y="261.40" font-size="9.2" text-anchor="start" >off</text>
<path d="M345.00,294.30 C345.50,294.17 347.08,293.77 348.00,293.50 C348.92,293.23 349.63,292.53 350.50,292.70 C351.37,292.87 352.48,292.95 353.20,294.50 C353.92,296.05 354.25,297.42 354.80,302.00 C355.35,306.58 355.88,314.83 356.50,322.00 C357.12,329.17 357.78,337.90 358.50,345.00 C359.22,352.10 359.97,361.85 360.80,364.60 C361.63,367.35 362.47,362.97 363.50,361.50 C364.53,360.03 365.32,357.85 367.00,355.80 C368.68,353.75 371.85,351.08 373.60,349.20 C375.35,347.32 376.22,346.15 377.50,344.50 C378.78,342.85 380.13,340.42 381.30,339.30 C382.47,338.18 383.47,338.15 384.50,337.80 C385.53,337.45 386.58,338.00 387.50,337.20 C388.42,336.40 389.02,334.65 390.00,333.00 C390.98,331.35 392.23,329.22 393.40,327.30 C394.57,325.38 395.73,323.12 397.00,321.50 C398.27,319.88 399.75,318.08 401.00,317.60 C402.25,317.12 403.22,318.08 404.50,318.60 C405.78,319.12 407.28,320.70 408.70,320.70 C410.12,320.70 411.53,319.33 413.00,318.60 C414.47,317.87 415.80,317.45 417.50,316.30 C419.20,315.15 420.88,313.15 423.20,311.70 C425.52,310.25 428.68,308.85 431.40,307.60 C434.12,306.35 436.78,305.70 439.50,304.20 C442.22,302.70 445.37,300.02 447.70,298.60 C450.03,297.18 451.72,295.97 453.50,295.70 C455.28,295.43 456.37,296.15 458.40,297.00 C460.43,297.85 463.52,300.77 465.70,300.80 C467.88,300.83 469.78,298.58 471.50,297.20 C473.22,295.82 474.50,293.68 476.00,292.50 C477.50,291.32 478.93,290.43 480.50,290.10 C482.07,289.77 483.37,290.05 485.40,290.50 C487.43,290.95 491.48,292.42 492.70,292.80" fill="none" stroke="#ff8a8c" stroke-width="1.9" stroke-linejoin="round" stroke-linecap="round"/>
<path d="M345.00,296.50 C345.83,296.52 348.53,296.52 350.00,296.60 C351.47,296.68 352.80,296.27 353.80,297.00 C354.80,297.73 355.27,298.50 356.00,301.00 C356.73,303.50 357.45,307.33 358.20,312.00 C358.95,316.67 359.78,324.42 360.50,329.00 C361.22,333.58 361.87,337.23 362.50,339.50 C363.13,341.77 363.55,342.43 364.30,342.60 C365.05,342.77 366.05,341.60 367.00,340.50 C367.95,339.40 368.90,337.30 370.00,336.00 C371.10,334.70 372.10,333.87 373.60,332.70 C375.10,331.53 377.17,330.18 379.00,329.00 C380.83,327.82 383.02,326.77 384.60,325.60 C386.18,324.43 387.22,323.27 388.50,322.00 C389.78,320.73 390.97,319.47 392.30,318.00 C393.63,316.53 395.05,314.57 396.50,313.20 C397.95,311.83 399.67,310.23 401.00,309.80 C402.33,309.37 403.22,310.33 404.50,310.60 C405.78,310.87 407.28,311.57 408.70,311.40 C410.12,311.23 411.53,310.27 413.00,309.60 C414.47,308.93 415.80,308.27 417.50,307.40 C419.20,306.53 421.28,305.07 423.20,304.40 C425.12,303.73 426.82,303.70 429.00,303.40 C431.18,303.10 433.72,303.25 436.30,302.60 C438.88,301.95 441.78,300.57 444.50,299.50 C447.22,298.43 449.60,296.88 452.60,296.20 C455.60,295.52 459.50,295.48 462.50,295.40 C465.50,295.32 468.35,296.07 470.60,295.70 C472.85,295.33 474.35,293.93 476.00,293.20 C477.65,292.47 478.83,291.80 480.50,291.30 C482.17,290.80 484.08,290.48 486.00,290.20 C487.92,289.92 491.00,289.70 492.00,289.60" fill="none" stroke="#72a8f4" stroke-width="1.9" stroke-linejoin="round" stroke-linecap="round"/>
<line x1="344.80" y1="274.80" x2="344.80" y2="374.20" stroke="#000" stroke-width="1.7" />
<line x1="343.95" y1="373.40" x2="494.45" y2="373.40" stroke="#000" stroke-width="1.7" />
<line x1="341.50" y1="299.40" x2="344.80" y2="299.40" stroke="#000" stroke-width="1.4" />
<text x="340.20" y="303.30" font-size="11.3" text-anchor="end" >0</text>
<line x1="341.50" y1="349.40" x2="344.80" y2="349.40" stroke="#000" stroke-width="1.4" />
<text x="340.20" y="353.30" font-size="11.3" text-anchor="end" >-2</text>
<line x1="369.60" y1="373.40" x2="369.60" y2="376.40" stroke="#000" stroke-width="1.4" />
<text x="369.60" y="388.40" font-size="11.3" text-anchor="middle" >2.10</text>
<line x1="431.40" y1="373.40" x2="431.40" y2="376.40" stroke="#000" stroke-width="1.4" />
<text x="431.40" y="388.40" font-size="11.3" text-anchor="middle" >2.15</text>
<line x1="493.20" y1="373.40" x2="493.20" y2="376.40" stroke="#000" stroke-width="1.4" />
<text x="493.20" y="388.40" font-size="11.3" text-anchor="middle" >2.20</text>
<text x="419.50" y="404.00" font-size="11.4" text-anchor="middle" >Time (s)</text>
<text x="0.00" y="0.00" font-size="11.4" text-anchor="middle" transform="translate(326.8,321.2) rotate(-90)">Amplitude (nA)</text>
<line x1="454.30" y1="336.70" x2="463.20" y2="336.70" stroke="#ff8a8c" stroke-width="1.5" />
<line x1="454.30" y1="349.40" x2="463.20" y2="349.40" stroke="#72a8f4" stroke-width="1.5" />
<text x="468.60" y="340.40" font-size="11.6" text-anchor="start" >PHT1-GFP OE</text>
<text x="468.60" y="353.60" font-size="11.6" text-anchor="start" >WT</text>
</svg></body></html>
